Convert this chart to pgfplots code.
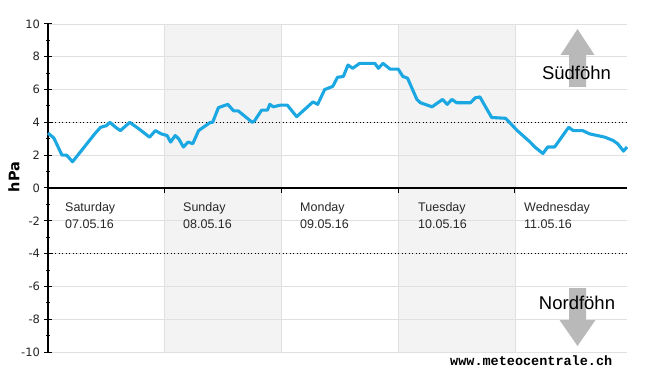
\documentclass[border=0pt]{standalone}
\usepackage{pgfplots}
\pgfplotsset{compat=1.18}
\usepackage{fontspec}
\setmainfont{Liberation Sans}
\newfontfamily\tickfont{DejaVu Sans}
\newfontfamily\monofont{Liberation Mono}
\definecolor{linec}{RGB}{27,167,226}
\definecolor{daybg}{RGB}{243,243,243}
\definecolor{gridc}{RGB}{224,224,224}
\definecolor{arrowc}{RGB}{185,185,185}
\definecolor{labc}{RGB}{40,40,40}
\begin{document}
\begin{tikzpicture}
\begin{axis}[set layers, scale only axis, width=579pt, height=328pt,
  at={(0pt,0pt)}, anchor=south west,
  xmin=0, xmax=4.96, ymin=-10, ymax=10,
  axis x line=none, axis y line*=left,
  ytick={-10,-8,...,10}, minor y tick num=1,
  ymajorgrids, grid style={gridc, line width=0.8pt},
  y axis line style={line width=1.6pt},
  major tick length=7pt, minor tick length=4pt, tick align=center,
  tick style={black, line width=1pt},
  yticklabel style={font=\tickfont\fontsize{11.5}{13}\selectfont, text=black!85, xshift=-1pt},
  /pgf/number format/assume math mode=true,
  clip=false]
\begin{pgfonlayer}{axis background}
\fill[daybg] (axis cs:1,-10) rectangle (axis cs:2,10);
\fill[daybg] (axis cs:3,-10) rectangle (axis cs:4,10);
\draw[gridc, line width=0.8pt] (axis cs:1,-10) -- (axis cs:1,10);
\draw[gridc, line width=0.8pt] (axis cs:2,-10) -- (axis cs:2,10);
\draw[gridc, line width=0.8pt] (axis cs:3,-10) -- (axis cs:3,10);
\draw[gridc, line width=0.8pt] (axis cs:4,-10) -- (axis cs:4,10);
\end{pgfonlayer}
\draw[black, line width=1.1pt, dash pattern=on 1.3pt off 2.2pt] (axis cs:0,4) -- (axis cs:4.96,4);
\draw[black, line width=1.1pt, dash pattern=on 1.3pt off 2.2pt] (axis cs:0,-4) -- (axis cs:4.96,-4);
\draw[black, line width=1.2pt] (axis cs:0,0) -- (axis cs:4.96,0);
\draw[black, line width=1pt] (axis cs:1,0) -- ++(0pt,-5pt);
\draw[black, line width=1pt] (axis cs:2,0) -- ++(0pt,-5pt);
\draw[black, line width=1pt] (axis cs:3,0) -- ++(0pt,-5pt);
\draw[black, line width=1pt] (axis cs:4,0) -- ++(0pt,-5pt);
\addplot[linec, line width=3.1pt, line join=round] table {
x y
0 3.35
0.05 3.05
0.12 2.0
0.16 2.0
0.21 1.6
0.30 2.4
0.40 3.3
0.45 3.7
0.50 3.8
0.53 4.0
0.58 3.7
0.62 3.5
0.66 3.75
0.70 4.0
0.78 3.6
0.87 3.1
0.92 3.5
0.97 3.3
1.02 3.2
1.05 2.8
1.09 3.2
1.12 3.0
1.16 2.5
1.20 2.8
1.24 2.7
1.29 3.5
1.35 3.8
1.39 4.0
1.41 4.0
1.46 4.9
1.54 5.1
1.59 4.7
1.63 4.7
1.75 4.0
1.77 4.1
1.83 4.75
1.88 4.75
1.90 5.1
1.93 4.95
1.99 5.05
2.05 5.05
2.13 4.35
2.20 4.8
2.27 5.25
2.31 5.1
2.37 6.0
2.44 6.2
2.48 6.75
2.53 6.8
2.57 7.5
2.61 7.3
2.67 7.6
2.80 7.6
2.83 7.3
2.87 7.6
2.93 7.25
3.00 7.25
3.04 6.8
3.08 6.7
3.16 5.4
3.19 5.2
3.29 4.95
3.38 5.4
3.42 5.1
3.46 5.4
3.50 5.2
3.62 5.2
3.66 5.5
3.70 5.55
3.80 4.3
3.92 4.25
4.02 3.5
4.13 2.8
4.17 2.5
4.24 2.1
4.28 2.5
4.34 2.5
4.46 3.7
4.50 3.5
4.58 3.5
4.64 3.3
4.77 3.1
4.84 2.9
4.88 2.7
4.93 2.25
4.96 2.5
};
\end{axis}
% arrows
\fill[arrowc] (521pt,265pt) -- (538pt,265pt) -- (538pt,297pt) -- (546.5pt,297pt) -- (529.5pt,323pt) -- (512.5pt,297pt) -- (521pt,297pt) -- cycle;
\fill[arrowc] (521pt,64pt) -- (538pt,64pt) -- (538pt,32pt) -- (547.5pt,32pt) -- (529.5pt,6pt) -- (511.5pt,32pt) -- (521pt,32pt) -- cycle;
\node[font=\fontsize{18.5}{20}\selectfont, inner sep=0pt] at (528.5pt,279pt) {Südföhn};
\node[font=\fontsize{18.5}{20}\selectfont, inner sep=0pt] at (529pt,49pt) {Nordföhn};
% day labels
\begin{scope}[every node/.style={anchor=base west, inner sep=0pt, text=labc, font=\fontsize{12.5}{14}\selectfont}]
\node at (17pt,140pt) {Saturday};
\node at (17pt,124pt) {07.05.16};
\node at (135pt,140pt) {Sunday};
\node at (135pt,124pt) {08.05.16};
\node at (252pt,140pt) {Monday};
\node at (252pt,124pt) {09.05.16};
\node at (370pt,140pt) {Tuesday};
\node at (370pt,124pt) {10.05.16};
\node at (476pt,140pt) {Wednesday};
\node at (476pt,124pt) {11.05.16};
\end{scope}
\node[rotate=90, inner sep=0pt, font=\tickfont\bfseries\fontsize{14.5}{16}\selectfont] at (-34pt,175pt) {hPa};
\node[anchor=base west, inner sep=0pt, font=\monofont\bfseries\fontsize{13.5}{15}\selectfont] at (402pt,-13pt) {www.meteocentrale.ch};
\pgfresetboundingbox
\path[use as bounding box] (-48pt,-23pt) rectangle (602pt,352pt);
\end{tikzpicture}
\end{document}
